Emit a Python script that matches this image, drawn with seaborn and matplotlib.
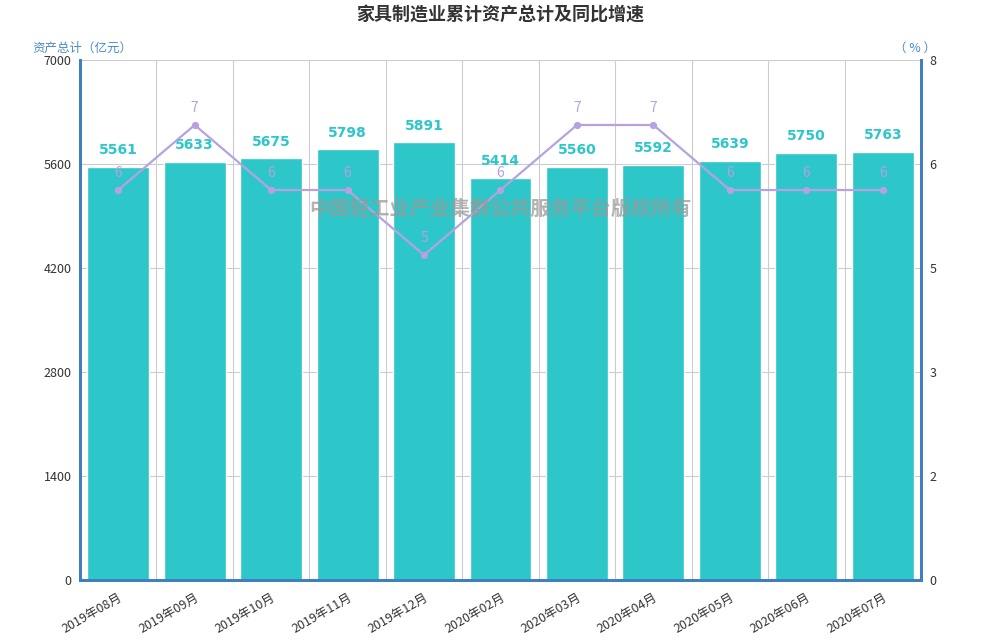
import numpy as np
import matplotlib
matplotlib.use("Agg")
import matplotlib.pyplot as plt
import seaborn as sns

months = ["2019年08月", "2019年09月", "2019年10月", "2019年11月", "2019年12月", "2020年02月",
          "2020年03月", "2020年04月", "2020年05月", "2020年06月", "2020年07月"]
assets = [5561, 5633, 5675, 5798, 5891, 5414, 5560, 5592, 5639, 5750, 5763]
growth = [6, 7, 6, 6, 5, 6, 7, 7, 6, 6, 6]
left_ticks = [0, 1400, 2800, 4200, 5600, 7000]
right_ticks = [0, 1.6, 3.2, 4.8, 6.4, 8]

BAR = "#2ec7c9"
LINE = "#b6a2de"
AXIS = "#3f7fbf"

sns.set_theme(style="white")
plt.rcParams["font.family"] = ["Noto Sans CJK SC", "DejaVu Sans"]

fig = plt.figure(figsize=(10, 6.4), dpi=100)
ax = fig.add_axes([0.08, 0.09375, 0.841, 0.8125])

sns.barplot(x=months, y=assets, color=BAR, width=0.81, saturation=1, ax=ax, zorder=2)
ax.set_ylim(0, 7000)
ax.set_xlim(-0.5, len(months) - 0.5)
ax.set_yticks(left_ticks)
ax.set_yticklabels([str(v) for v in left_ticks], fontsize=9, color="#333333")
ax.set_xticks(range(len(months)))
ax.set_xticklabels(months, rotation=30, ha="right", rotation_mode="anchor", fontsize=9, color="#333333")
ax.tick_params(axis="x", length=0, pad=8)
ax.tick_params(axis="y", length=0, pad=6)
ax.set_xticks(np.arange(-0.5, len(months)), minor=True)
ax.tick_params(axis="x", which="minor", length=4, color="#333333", direction="out")
ax.grid(True, axis="y", color="#cccccc", linewidth=0.8, zorder=0)
ax.grid(True, axis="x", which="minor", color="#cccccc", linewidth=0.8, zorder=0)
ax.set_axisbelow(True)
ax.set_xlabel("")
ax.set_ylabel("")

for i, v in enumerate(assets):
    ax.annotate(str(v), (i, v), xytext=(0, 7), textcoords="offset points",
                ha="center", va="bottom", fontsize=10, fontweight="bold", color=BAR,
                family="DejaVu Sans")

ax2 = ax.twinx()
sns.pointplot(x=months, y=growth, color=LINE, markers="o", markersize=4, linewidth=1.6, ax=ax2)
ax2.set_ylim(0, 8)
ax2.set_yticks(right_ticks)
ax2.set_yticklabels([f"{v:.0f}" for v in right_ticks], fontsize=9, color="#333333")
ax2.tick_params(axis="y", length=0, pad=6)
ax2.set_ylabel("")
ax2.grid(False)
for i, v in enumerate(growth):
    ax2.annotate(str(v), (i, v), xytext=(0, 7), textcoords="offset points",
                 ha="center", va="bottom", fontsize=10, color=LINE)

for a in (ax, ax2):
    a.spines["top"].set_visible(False)
    for side in ("left", "right", "bottom"):
        a.spines[side].set_color(AXIS)
        a.spines[side].set_linewidth(2)

fig.text(0.5, 0.977, "家具制造业累计资产总计及同比增速", ha="center", va="center",
         fontsize=13, fontweight="bold", color="#333333")
fig.text(0.032, 0.925, "资产总计（亿元）", ha="left", va="center", fontsize=9, color="#4a8ac8")
fig.text(0.936, 0.925, "（ % ）", ha="right", va="center", fontsize=9, color="#4a8ac8")
fig.text(0.5, 0.675, "中国轻工业产业集群公共服务平台版权所有", ha="center", va="center",
         fontsize=14.5, fontweight="bold", color="#999999", alpha=0.75, zorder=10)

fig.savefig("out.png", dpi=100)
